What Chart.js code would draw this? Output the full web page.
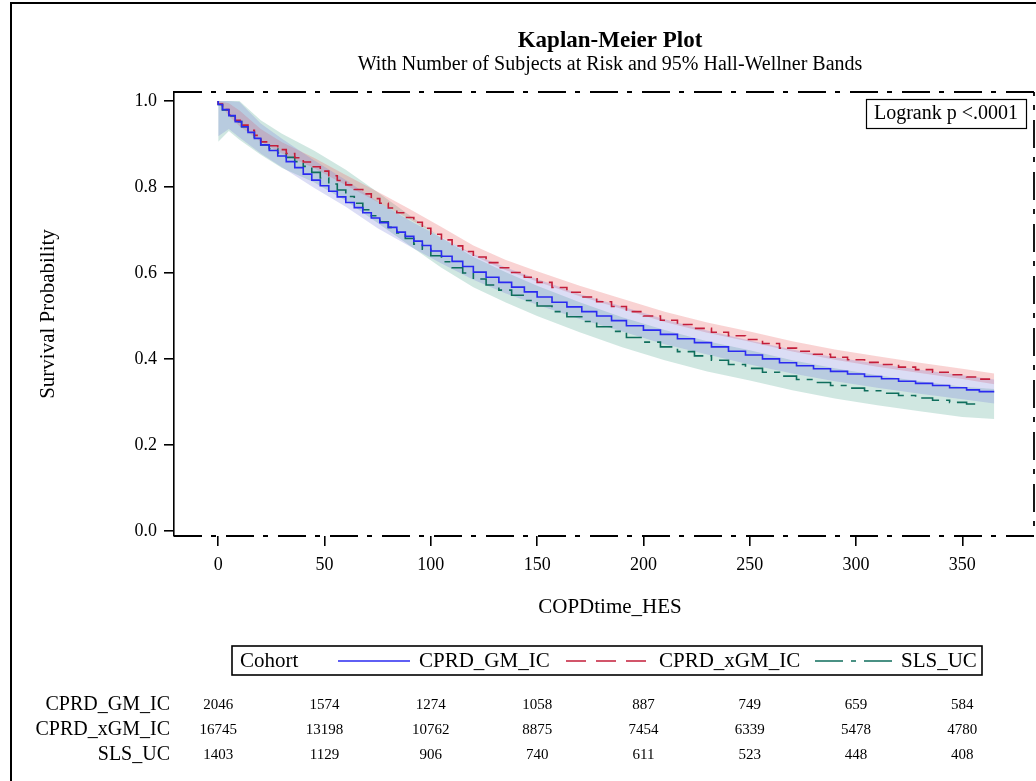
<!DOCTYPE html>
<html>
<head>
<meta charset="utf-8">
<title>Kaplan-Meier Plot</title>
<script src="https://cdn.jsdelivr.net/npm/chart.js@4.4.1/dist/chart.umd.min.js"></script>
<style>
    body { margin: 0; background: #fff; }
    canvas { display: block; }
</style>
</head>
<body>
<canvas id="kmChart" width="1036" height="781"></canvas>
<script>
// survival curves (days, probability)
const timeDays = [0, 2, 5, 8, 11, 14, 17, 20, 24, 28, 32, 36, 40, 44, 48, 52, 56, 60, 64, 68, 72, 76, 80, 84, 88, 92, 96, 100,
    105, 110, 115, 120, 126, 132, 138, 144, 150, 157, 164, 171, 178, 185, 192, 200, 208, 216, 224, 232, 240, 248, 256, 264,
    272, 280, 288, 296, 304, 312, 320, 328, 336, 344, 352, 358, 365];
const survGM = [1.000, 0.992, 0.980, 0.966, 0.952, 0.940, 0.927, 0.913, 0.898, 0.885, 0.872, 0.859, 0.845, 0.830, 0.816, 0.803, 0.790, 0.777, 0.764, 0.752, 0.740, 0.728, 0.717, 0.706, 0.695, 0.685, 0.674, 0.664,
    0.651, 0.639, 0.627, 0.615, 0.602, 0.590, 0.578, 0.567, 0.556, 0.544, 0.532, 0.521, 0.510, 0.500, 0.489, 0.477, 0.467, 0.457, 0.447, 0.438, 0.428, 0.418, 0.409, 0.400,
    0.391, 0.384, 0.377, 0.371, 0.365, 0.359, 0.354, 0.348, 0.343, 0.338, 0.333, 0.328, 0.324];
const survXGM = [1.000, 0.993, 0.980, 0.968, 0.955, 0.944, 0.932, 0.920, 0.905, 0.896, 0.887, 0.878, 0.868, 0.858, 0.847, 0.837, 0.826, 0.815, 0.805, 0.794, 0.784, 0.773, 0.762, 0.751, 0.740, 0.729, 0.718, 0.704,
    0.690, 0.677, 0.663, 0.650, 0.637, 0.624, 0.612, 0.601, 0.590, 0.578, 0.566, 0.555, 0.544, 0.533, 0.522, 0.510, 0.500, 0.490, 0.480, 0.471, 0.462, 0.454, 0.445, 0.436,
    0.425, 0.418, 0.411, 0.404, 0.398, 0.392, 0.387, 0.381, 0.375, 0.369, 0.363, 0.358, 0.353];
const survSLS = [1.000, 0.992, 0.979, 0.965, 0.952, 0.940, 0.927, 0.913, 0.898, 0.889, 0.879, 0.869, 0.859, 0.848, 0.834, 0.821, 0.807, 0.793, 0.778, 0.762, 0.747, 0.733, 0.719, 0.706, 0.693, 0.680, 0.667, 0.655,
    0.640, 0.626, 0.612, 0.600, 0.586, 0.572, 0.560, 0.548, 0.536, 0.523, 0.510, 0.498, 0.487, 0.475, 0.464, 0.450, 0.439, 0.428, 0.417, 0.407, 0.397, 0.387, 0.378, 0.369,
    0.360, 0.352, 0.345, 0.338, 0.332, 0.326, 0.320, 0.315, 0.309, 0.304, 0.299, 0.295];

// 95% Hall-Wellner bands
const bandDays = [0, 5, 10, 20, 30, 45, 60, 75, 90, 105, 120, 135, 150, 170, 190, 210, 230, 250, 270, 290, 310, 330, 350, 365];
const gmUpper = [1.000, 1.000, 0.998, 0.948, 0.912, 0.862, 0.816, 0.766, 0.722, 0.682, 0.644, 0.613, 0.586, 0.551, 0.522, 0.492, 0.466, 0.443, 0.422, 0.404, 0.389, 0.375, 0.362, 0.352];
const gmLower = [0.918, 0.935, 0.915, 0.878, 0.846, 0.798, 0.754, 0.704, 0.662, 0.622, 0.584, 0.553, 0.526, 0.493, 0.464, 0.434, 0.410, 0.387, 0.366, 0.348, 0.333, 0.319, 0.306, 0.296];
const xgmUpper = [1.000, 0.995, 0.978, 0.935, 0.904, 0.868, 0.828, 0.789, 0.749, 0.707, 0.664, 0.631, 0.604, 0.570, 0.540, 0.510, 0.485, 0.464, 0.441, 0.422, 0.406, 0.391, 0.377, 0.366];
const xgmLower = [1.000, 0.965, 0.942, 0.905, 0.878, 0.844, 0.804, 0.765, 0.725, 0.683, 0.640, 0.607, 0.580, 0.546, 0.516, 0.486, 0.461, 0.440, 0.417, 0.398, 0.382, 0.367, 0.353, 0.341];
const slsUpper = [1.000, 1.000, 1.000, 0.955, 0.924, 0.885, 0.840, 0.788, 0.734, 0.682, 0.637, 0.602, 0.570, 0.532, 0.497, 0.467, 0.441, 0.420, 0.397, 0.378, 0.362, 0.348, 0.335, 0.330];
const slsLower = [0.905, 0.930, 0.910, 0.875, 0.844, 0.811, 0.768, 0.716, 0.664, 0.612, 0.567, 0.532, 0.500, 0.462, 0.427, 0.397, 0.371, 0.350, 0.327, 0.308, 0.292, 0.278, 0.265, 0.260];

const cohortNames = ['CPRD_GM_IC', 'CPRD_xGM_IC', 'SLS_UC'];
const xTicks = [0, 50, 100, 150, 200, 250, 300, 350];
const yTicks = [0.0, 0.2, 0.4, 0.6, 0.8, 1.0];

// number of subjects at risk
const riskTimes = [0, 50, 100, 150, 200, 250, 300, 350];
const riskGM = [2046, 1574, 1274, 1058, 887, 749, 659, 584];
const riskXGM = [16745, 13198, 10762, 8875, 7454, 6339, 5478, 4780];
const riskSLS = [1403, 1129, 906, 740, 611, 523, 448, 408];

const SERIF = '"Liberation Serif", "Times New Roman", serif';
const colors = ['#2a2af0', '#c41e3a', '#0f6e5c'];
const bandColors = ['rgba(110, 120, 215, 0.25)', 'rgba(235, 110, 110, 0.3)', 'rgba(80, 165, 145, 0.27)'];
const lineDash = [[], [10, 6], [20, 7, 6, 7]];
const legendDash = [[], [20, 10], [28, 8, 5, 8]];

const pts = (days, vals) => vals.map((v, i) => ({ x: days[i], y: v }));

function curve(i, vals) {
    return {
        label: cohortNames[i],
        data: pts(timeDays, vals),
        borderColor: colors[i],
        borderWidth: 1.6,
        borderDash: lineDash[i],
        stepped: 'after',
        pointRadius: 0,
        fill: false,
        order: 0
    };
}

function band(i, vals, isUpper) {
    return {
        label: cohortNames[i] + (isUpper ? ' upper' : ' lower'),
        data: pts(bandDays, vals),
        borderWidth: 0,
        borderColor: 'rgba(0,0,0,0)',
        backgroundColor: bandColors[i],
        pointRadius: 0,
        fill: isUpper ? '+1' : false,
        order: 1
    };
}

function dashedLine(ctx, x1, y1, x2, y2, offset) {
    ctx.setLineDash([28, 9, 5, 10]);
    ctx.lineDashOffset = offset;
    ctx.beginPath();
    ctx.moveTo(x1, y1);
    ctx.lineTo(x2, y2);
    ctx.stroke();
    ctx.setLineDash([]);
    ctx.lineDashOffset = 0;
}

const extras = {
    id: 'extras',
    afterDraw(chart) {
        const { ctx, chartArea: area, scales: { x } } = chart;
        const cx = (area.left + area.right) / 2 + 6;
        ctx.save();

        // outer frame
        ctx.strokeStyle = '#000';
        ctx.lineWidth = 2;
        ctx.strokeRect(11, 3, 1060, 820);

        // dash-dot wall on the top, right and bottom sides
        ctx.lineWidth = 1.8;
        dashedLine(ctx, area.left, area.top, area.right, area.top, 0);
        dashedLine(ctx, area.left, area.bottom, area.right, area.bottom, 0);
        dashedLine(ctx, area.right, area.top, area.right, area.bottom, 24);

        ctx.fillStyle = '#000';
        ctx.textAlign = 'center';
        ctx.textBaseline = 'middle';
        ctx.font = 'bold 23px ' + SERIF;
        ctx.fillText('Kaplan-Meier Plot', cx, 41);
        ctx.font = '20px ' + SERIF;
        ctx.fillText('With Number of Subjects at Risk and 95% Hall-Wellner Bands', cx, 65);

        // axis titles
        ctx.font = '21px ' + SERIF;
        ctx.fillText('COPDtime_HES', cx, 607);
        ctx.save();
        ctx.translate(48, (area.top + area.bottom) / 2);
        ctx.rotate(-Math.PI / 2);
        ctx.fillText('Survival Probability', 0, 0);
        ctx.restore();

        // logrank box
        ctx.lineWidth = 1.2;
        ctx.strokeRect(866.5, 99.5, 160, 29);
        ctx.font = '20px ' + SERIF;
        ctx.fillText('Logrank p <.0001', 946, 114);

        // legend
        ctx.lineWidth = 1.6;
        ctx.strokeRect(232, 646, 750, 29);
        ctx.textAlign = 'left';
        ctx.font = '21px ' + SERIF;
        ctx.fillText('Cohort', 240, 661);
        const sampleX = [[338, 410], [566, 646], [815, 893]];
        const labelX = [419, 659, 901];
        cohortNames.forEach((name, i) => {
            ctx.strokeStyle = colors[i];
            ctx.lineWidth = 1.6;
            ctx.setLineDash(legendDash[i]);
            ctx.beginPath();
            ctx.moveTo(sampleX[i][0], 661);
            ctx.lineTo(sampleX[i][1], 661);
            ctx.stroke();
            ctx.setLineDash([]);
            ctx.fillText(name, labelX[i], 661);
        });

        // at-risk table
        const rows = [riskGM, riskXGM, riskSLS];
        const rowY = [705, 730, 755];
        rows.forEach((row, r) => {
            ctx.textAlign = 'right';
            ctx.font = '20px ' + SERIF;
            ctx.fillText(cohortNames[r], 170, rowY[r]);
            ctx.textAlign = 'center';
            ctx.font = '15px ' + SERIF;
            row.forEach((n, k) => {
                ctx.fillText(String(n), x.getPixelForValue(riskTimes[k]), rowY[r]);
            });
        });
        ctx.restore();
    }
};

const ctx = document.getElementById('kmChart').getContext('2d');
new Chart(ctx, {
    type: 'line',
    data: {
        datasets: [
            curve(0, survGM),
            curve(1, survXGM),
            curve(2, survSLS),
            band(0, gmUpper, true),
            band(0, gmLower, false),
            band(1, xgmUpper, true),
            band(1, xgmLower, false),
            band(2, slsUpper, true),
            band(2, slsLower, false)
        ]
    },
    options: {
        responsive: false,
        animation: false,
        devicePixelRatio: 1,
        layout: { padding: { left: 0, right: 2, top: 92, bottom: 781 - 536 - 40 } },
        plugins: {
            legend: { display: false },
            tooltip: { enabled: false }
        },
        scales: {
            x: {
                type: 'linear',
                min: -20.8,
                max: 383.7,
                afterBuildTicks: s => { s.ticks = xTicks.map(v => ({ value: v })); },
                afterFit: s => { s.height = 40; },
                ticks: { color: '#000', padding: 8, maxRotation: 0, font: { family: SERIF, size: 18 } },
                grid: { drawOnChartArea: false, drawTicks: true, tickLength: 10, color: '#000', lineWidth: 1.6 },
                border: { display: false }
            },
            y: {
                min: -0.012,
                max: 1.021,
                afterBuildTicks: s => { s.ticks = yTicks.map(v => ({ value: v })); },
                afterFit: s => { s.width = 174; },
                ticks: { color: '#000', padding: 7, font: { family: SERIF, size: 18 }, callback: v => v.toFixed(1) },
                grid: { drawOnChartArea: false, drawTicks: true, tickLength: 10, color: '#000', lineWidth: 1.6 },
                border: { color: '#000', width: 1.6 }
            }
        }
    },
    plugins: [extras]
});
</script>
</body>
</html>
